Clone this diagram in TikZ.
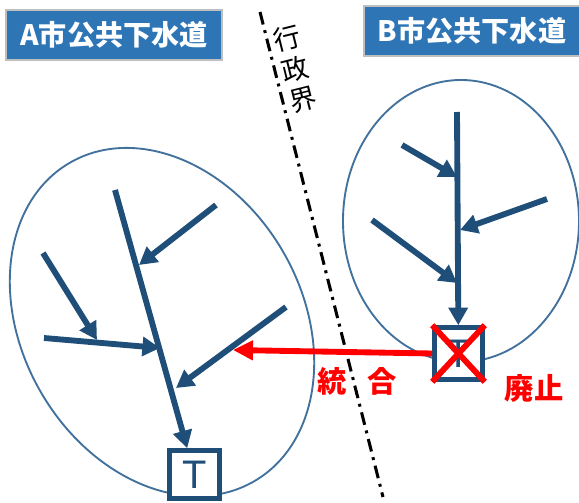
\documentclass[tikz,border=0pt]{standalone}
\usepackage{fontspec}
\newfontfamily\jpfont{Noto Sans CJK JP}
\newfontfamily\latfont{Liberation Sans}
\usetikzlibrary{arrows.meta}
\definecolor{pipeblue}{HTML}{1F4E79}
\definecolor{areablue}{HTML}{41719C}
\definecolor{titleblue}{HTML}{2E75B6}
\definecolor{cutred}{HTML}{FF0000}
\tikzset{
	pipe/.style={pipeblue, line width=5pt, -{Triangle[length=15pt,width=16pt]}},
	area/.style={areablue, line width=1.6pt},
	title/.style={fill=titleblue, draw=gray!50, line width=1.8pt, text=white,
		font=\jpfont\bfseries\fontsize{24}{24}\selectfont,
		minimum width=6.5cm, minimum height=1.5cm, inner sep=0pt},
	plant/.style={draw=pipeblue, line width=4.2pt, fill=white, text=pipeblue,
		font=\latfont\fontsize{34}{34}\selectfont, inner sep=0pt},
	redtext/.style={text=cutred, font=\jpfont\bfseries\fontsize{25}{25}\selectfont, inner sep=0pt},
}
\begin{document}
\begin{tikzpicture}[x=0.03cm,y=0.03cm]
		\useasboundingbox (0,0) rectangle (579,-503);
		
		\node[title] (titleA) at (114,-35) {A市公共下水道};
		\node[title] (titleB) at (472,-31) {B市公共下水道};
		
		% areas
		\draw[area, rotate around={30:(162,-322)}] (162,-322) ellipse [x radius=140, y radius=184];
		\draw[area] (461,-221) ellipse [x radius=118, y radius=141];
		
		% boundary
		\coordinate (top) at (260,-12);
		\coordinate (bot) at (383,-497);
		\draw[line width=2.6pt, dash pattern=on 11pt off 5pt on 2.5pt off 5pt] (top) -- (bot);
		\node[rotate=14, align=center, font=\jpfont\fontsize{23}{27}\selectfont, inner sep=0pt] (gyosei) at (295,-69) {行\\政\\界};
		
		% A
		\node[plant, minimum width=1.49cm, minimum height=1.43cm] (T) at (194.5,-474.5) {T};
		\coordinate (a0) at (115,-190);
		\coordinate (a1) at (216,-205);
		\coordinate (a1e) at (139,-265);
		\coordinate (a2) at (43,-253);
		\coordinate (a2e) at (97,-340);
		\coordinate (a3) at (44,-338);
		\coordinate (a3e) at (160,-348);
		\coordinate (a4) at (286,-307);
		\coordinate (a4e) at (176,-388);
		\draw[pipe] (a0) -- (T);
		\draw[pipe] (a1) -- (a1e);
		\draw[pipe] (a2) -- (a2e);
		\draw[pipe] (a3) -- (a3e);
		\draw[pipe] (a4) -- (a4e);
		
		% B
		\node[plant, minimum width=1.43cm, minimum height=1.55cm] (X) at (458.5,-353.5) {T};
		\coordinate (b0) at (457,-112);
		\coordinate (b1) at (402,-145);
		\coordinate (b1e) at (457,-177);
		\coordinate (b2) at (547,-199);
		\coordinate (b2e) at (460,-230);
		\coordinate (b3) at (372,-220);
		\coordinate (b3e) at (457,-283);
		\draw[pipe] (b0) -- (X);
		\draw[pipe] (b1) -- (b1e);
		\draw[pipe] (b2) -- (b2e);
		\draw[pipe] (b3) -- (b3e);
		\draw[cutred, line width=5pt] (X.north west) -- (X.south east);
		\draw[cutred, line width=5pt] (X.north east) -- (X.south west);
		
		\coordinate (join) at (233,-350);
		\draw[cutred, line width=5pt, -{Triangle[length=17pt,width=16pt]}] (X.west) -- (join);
		\node[redtext] (tougou) at (357,-381) {統\hspace{0.7em}合};
		\node[redtext] (haishi) at (534,-388) {廃止};
\end{tikzpicture}
\end{document}
